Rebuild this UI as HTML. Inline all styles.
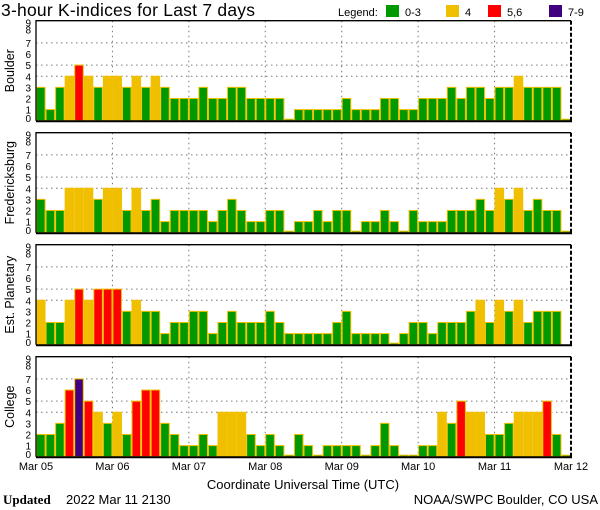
<!DOCTYPE html>
<html><head><meta charset="utf-8"><style>
html,body{margin:0;padding:0;background:#fff;}
svg{display:block;font-family:"Liberation Sans","DejaVu Sans",sans-serif;}
</style></head><body>
<svg id="chart" width="600" height="510" viewBox="0 0 600 510" xmlns="http://www.w3.org/2000/svg">
<rect x="0" y="0" width="600" height="510" fill="#fff"/>
<text x="1" y="16" font-size="17.5" fill="#000" textLength="254">3-hour K-indices for Last 7 days</text>
<g>
<text x="338" y="16" font-size="11">Legend:</text>
<rect x="386" y="5" width="13" height="12" fill="#009900"/>
<text x="405" y="16" font-size="11">0-3</text>
<rect x="446" y="5" width="13" height="12" fill="#f0c000"/>
<text x="465" y="16" font-size="11">4</text>
<rect x="488" y="5" width="13" height="12" fill="#ff0000"/>
<text x="507" y="16" font-size="11">5,6</text>
<rect x="549" y="5" width="13" height="12" fill="#400080"/>
<text x="568" y="16" font-size="11">7-9</text>
</g>
<g id="panels"></g>
<text x="303" y="489" font-size="13" text-anchor="middle">Coordinate Universal Time (UTC)</text>
<text x="3" y="504" font-size="13" font-weight="bold" font-family="Liberation Serif,serif">Updated</text>
<text x="66" y="504" font-size="13">2022 Mar 11 2130</text>
<text x="598" y="504" font-size="13" text-anchor="end">NOAA/SWPC Boulder, CO USA</text>
</svg>
<script>
const stations = ["Boulder","Fredericksburg","Est. Planetary","College"];
const dayLabels = ["Mar 05","Mar 06","Mar 07","Mar 08","Mar 09","Mar 10","Mar 11","Mar 12"];
const boulder = [3,1,3,4,5,4,3,4,4,3,4,3,4,3,2,2,2,3,2,2,3,3,2,2,2,2,0,1,1,1,1,1,2,1,1,1,2,2,1,1,2,2,2,3,2,3,3,2,3,3,4,3,3,3,3,0];
const fredericksburg = [3,2,2,4,4,4,3,4,4,2,4,2,3,1,2,2,2,2,1,2,3,2,1,1,2,2,0,1,1,2,1,2,2,0,1,1,2,1,0,2,1,1,1,2,2,2,3,2,4,3,4,2,3,2,2,0];
const planetary = [4,2,2,4,5,4,5,5,5,3,4,3,3,1,2,2,3,3,1,2,3,2,2,2,3,2,1,1,1,1,1,2,3,1,1,1,1,0,1,2,2,1,2,2,2,3,4,2,4,3,4,2,3,3,3,null];
const college = [2,2,3,6,7,5,4,3,4,2,5,6,6,3,2,1,1,2,1,4,4,4,2,1,2,1,0,2,1,0,1,1,1,1,0,1,3,1,0,0,1,1,4,3,5,4,4,2,2,3,4,4,4,5,2,0];
const seriesList = [boulder,fredericksburg,planetary,college];
const yTicks = [0,1,2,3,4,5,6,7,8,9];
const gridLevels = [4,5,7];

const NS="http://www.w3.org/2000/svg";
const X0=36, X1=571, NB=56, UNIT=100/9;
const bottoms=[120.7,232.7,344.7,456.7];
function xScale(i){return X0+i*(X1-X0)/NB;}
function yScale(v,b){return b-v*UNIT;}
function color(v){return v<=3?"#009900":v==4?"#f0c000":v<=6?"#ff0000":"#400080";}
function mk(tag,attrs,parent){const e=document.createElementNS(NS,tag);for(const k in attrs)e.setAttribute(k,attrs[k]);parent.appendChild(e);return e;}
const root=document.getElementById("panels");
const bw=(X1-X0)/NB;
seriesList.forEach((data,p)=>{
  const b=bottoms[p], top=b-100;
  const g=mk("g",{},root);
  
  
  gridLevels.forEach(l=>{
    const ln=mk("line",{x1:X0,x2:X1,y1:yScale(l,b),y2:yScale(l,b),stroke:"#777","stroke-dasharray":"1.5,3.5","stroke-width":1},g);
    
    
  });
  for(let d=1;d<7;d++){
    const ln=mk("line",{x1:xScale(d*8),x2:xScale(d*8),y1:top,y2:b,stroke:"#777","stroke-dasharray":"1.5,3.5","stroke-width":1},g);
    
    
  }
  data.forEach((v,i)=>{
    if(v===null) return;
    const h=Math.max(v*UNIT,1.5);
    const r=mk("rect",{x:xScale(i)+0.5,y:b-h,width:bw-1,height:h,fill:color(v),stroke:"#f0c000","stroke-width":1},g);
    
    
  });
  const ax=mk("path",{d:`M${X0} ${b} V${top} H${X1}`,fill:"none",stroke:"#000","stroke-width":1.3},g);
  
  
  const bl=mk("line",{x1:X0,x2:X1+1,y1:b+0.5,y2:b+0.5,stroke:"#000","stroke-width":2},g);
  
  
  const rl=mk("line",{x1:X1,x2:X1,y1:top,y2:b,stroke:"#000","stroke-width":2,"stroke-dasharray":"4,2"},g);
  
  
  yTicks.forEach(t=>{
    let y = t<=7 ? yScale(t,b)+4 : (t==8 ? top+13 : top+6);
    if(t==0) y=b+1.5;
    const tx=mk("text",{x:31,y:y,"font-size":10,"text-anchor":"end"},g);
    tx.textContent=t;
    
    
  });
  const cy=top+50;
  const st=mk("text",{x:0,y:0,"font-size":12.5,"text-anchor":"middle",transform:`translate(14 ${cy}) rotate(-90)`},g);
  st.textContent=stations[p];
  
  
});
dayLabels.forEach((d,i)=>{
  const tx=mk("text",{x:xScale(i*8),y:470,"font-size":11,"text-anchor":"middle"},root);
  tx.textContent=d;
  
  
});
</script>
</body></html>
